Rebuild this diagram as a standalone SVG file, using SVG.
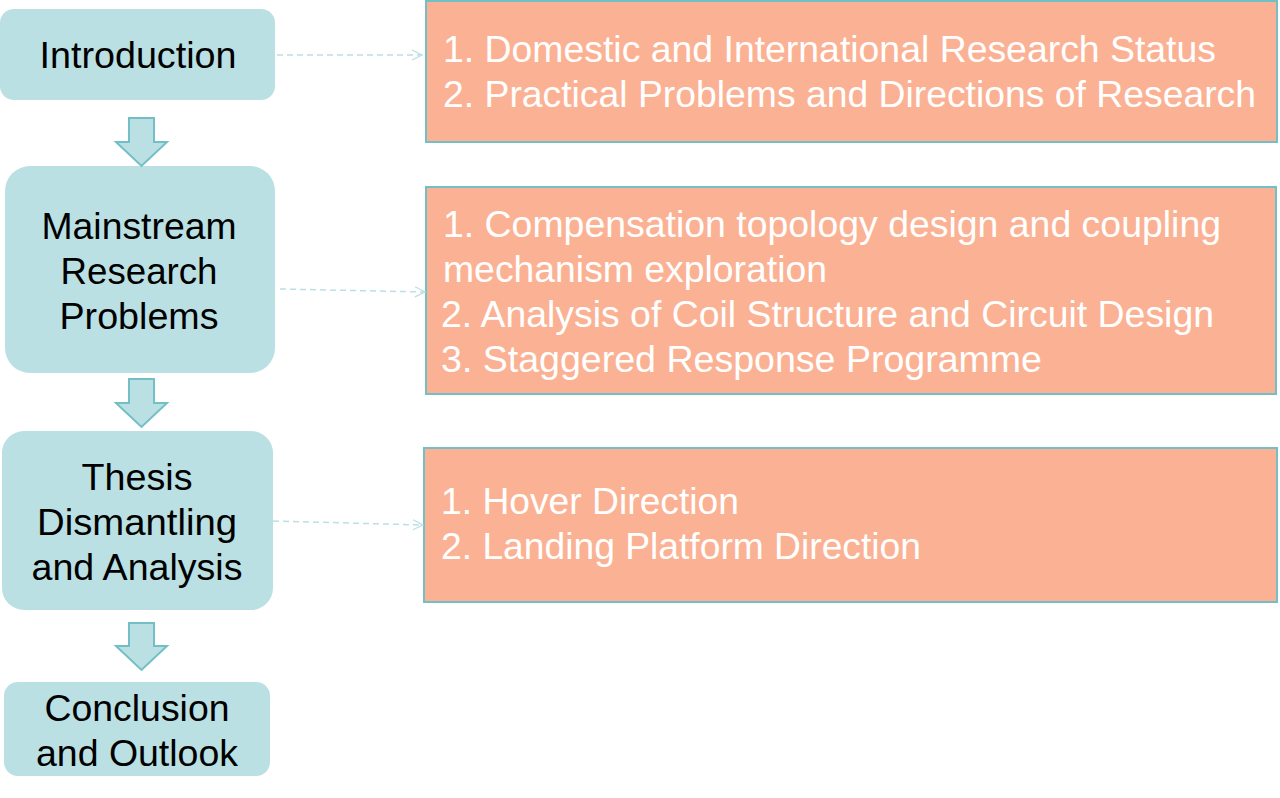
<svg xmlns="http://www.w3.org/2000/svg" width="1280" height="798" viewBox="0 0 1280 798">
<style>
.node{fill:#BAE0E3}
.lbl{font-family:"Liberation Sans",Arial,sans-serif;font-size:37px;fill:#000;text-anchor:middle}
.box{fill:#FBB294;stroke:#72C0C5;stroke-width:2}
.txt{font-family:"Liberation Sans",Arial,sans-serif;font-size:36px;fill:#fff}
.down{fill:#BAE0E3;stroke:#72C0C5;stroke-width:2;stroke-linejoin:miter}
.dash{stroke:#BAE0E3;stroke-width:1.5;stroke-dasharray:6 4;fill:none;marker-end:url(#open)}
</style>
<defs>
<marker id="open" viewBox="0 0 12 12" refX="11" refY="6" markerWidth="12" markerHeight="12" markerUnits="userSpaceOnUse" orient="auto">
<path d="M1,1 L11,6 L1,11" fill="none" stroke="#BAE0E3" stroke-width="1.3"/>
</marker>
</defs>
<rect width="1280" height="798" fill="#fff"/>
<g id="n-intro"><rect class="node" x="0" y="9" width="275" height="91" rx="14"/><text class="lbl" x="138" y="68" textLength="197" lengthAdjust="spacingAndGlyphs">Introduction</text></g>
<g id="n-main"><rect class="node" x="5" y="166" width="270" height="207" rx="25"/><text class="lbl" x="139" y="239" textLength="195" lengthAdjust="spacingAndGlyphs">Mainstream</text><text class="lbl" x="139" y="284" textLength="157" lengthAdjust="spacingAndGlyphs">Research</text><text class="lbl" x="139" y="329" textLength="159" lengthAdjust="spacingAndGlyphs">Problems</text></g>
<g id="n-thesis"><rect class="node" x="2" y="431" width="271" height="179" rx="22"/><text class="lbl" x="137" y="490" textLength="111" lengthAdjust="spacingAndGlyphs">Thesis</text><text class="lbl" x="137" y="535" textLength="200" lengthAdjust="spacingAndGlyphs">Dismantling</text><text class="lbl" x="137" y="580" textLength="211" lengthAdjust="spacingAndGlyphs">and Analysis</text></g>
<g id="n-concl"><rect class="node" x="4" y="682" width="266" height="94" rx="14"/><text class="lbl" x="137" y="721" textLength="185" lengthAdjust="spacingAndGlyphs">Conclusion</text><text class="lbl" x="137" y="766" textLength="202" lengthAdjust="spacingAndGlyphs">and Outlook</text></g>
<g id="b-1"><rect class="box" x="426" y="1" width="851" height="141"/><text class="txt" x="443" y="62" textLength="773" lengthAdjust="spacingAndGlyphs">1. Domestic and International Research Status</text><text class="txt" x="443" y="107" textLength="813" lengthAdjust="spacingAndGlyphs">2. Practical Problems and Directions of Research</text></g>
<g id="b-2"><rect class="box" x="426" y="187" width="850" height="207"/><text class="txt" x="443" y="237" textLength="778" lengthAdjust="spacingAndGlyphs">1. Compensation topology design and coupling</text><text class="txt" x="443" y="282" textLength="384" lengthAdjust="spacingAndGlyphs">mechanism exploration</text><text class="txt" x="441" y="327" textLength="773" lengthAdjust="spacingAndGlyphs">2. Analysis of Coil Structure and Circuit Design</text><text class="txt" x="441" y="372" textLength="601" lengthAdjust="spacingAndGlyphs">3. Staggered Response Programme</text></g>
<g id="b-3"><rect class="box" x="424" y="448" width="853" height="154"/><text class="txt" x="441" y="514" textLength="298" lengthAdjust="spacingAndGlyphs">1. Hover Direction</text><text class="txt" x="441" y="559" textLength="480" lengthAdjust="spacingAndGlyphs">2. Landing Platform Direction</text></g>
<g id="connectors">
<path class="down" d="M129,118 H154 V142 H167 L141.5,166 L116,142 H129 Z"/>
<path class="down" d="M129,379 H154 V403 H167 L141.5,427 L116,403 H129 Z"/>
<path class="down" d="M129,623 H154 V646 H167 L141.5,670 L116,646 H129 Z"/>
<path class="dash" d="M277,55 L422,55"/>
<path class="dash" d="M280,289 L425,292"/>
<path class="dash" d="M273,521 L423,525"/>
</g>
</svg>
